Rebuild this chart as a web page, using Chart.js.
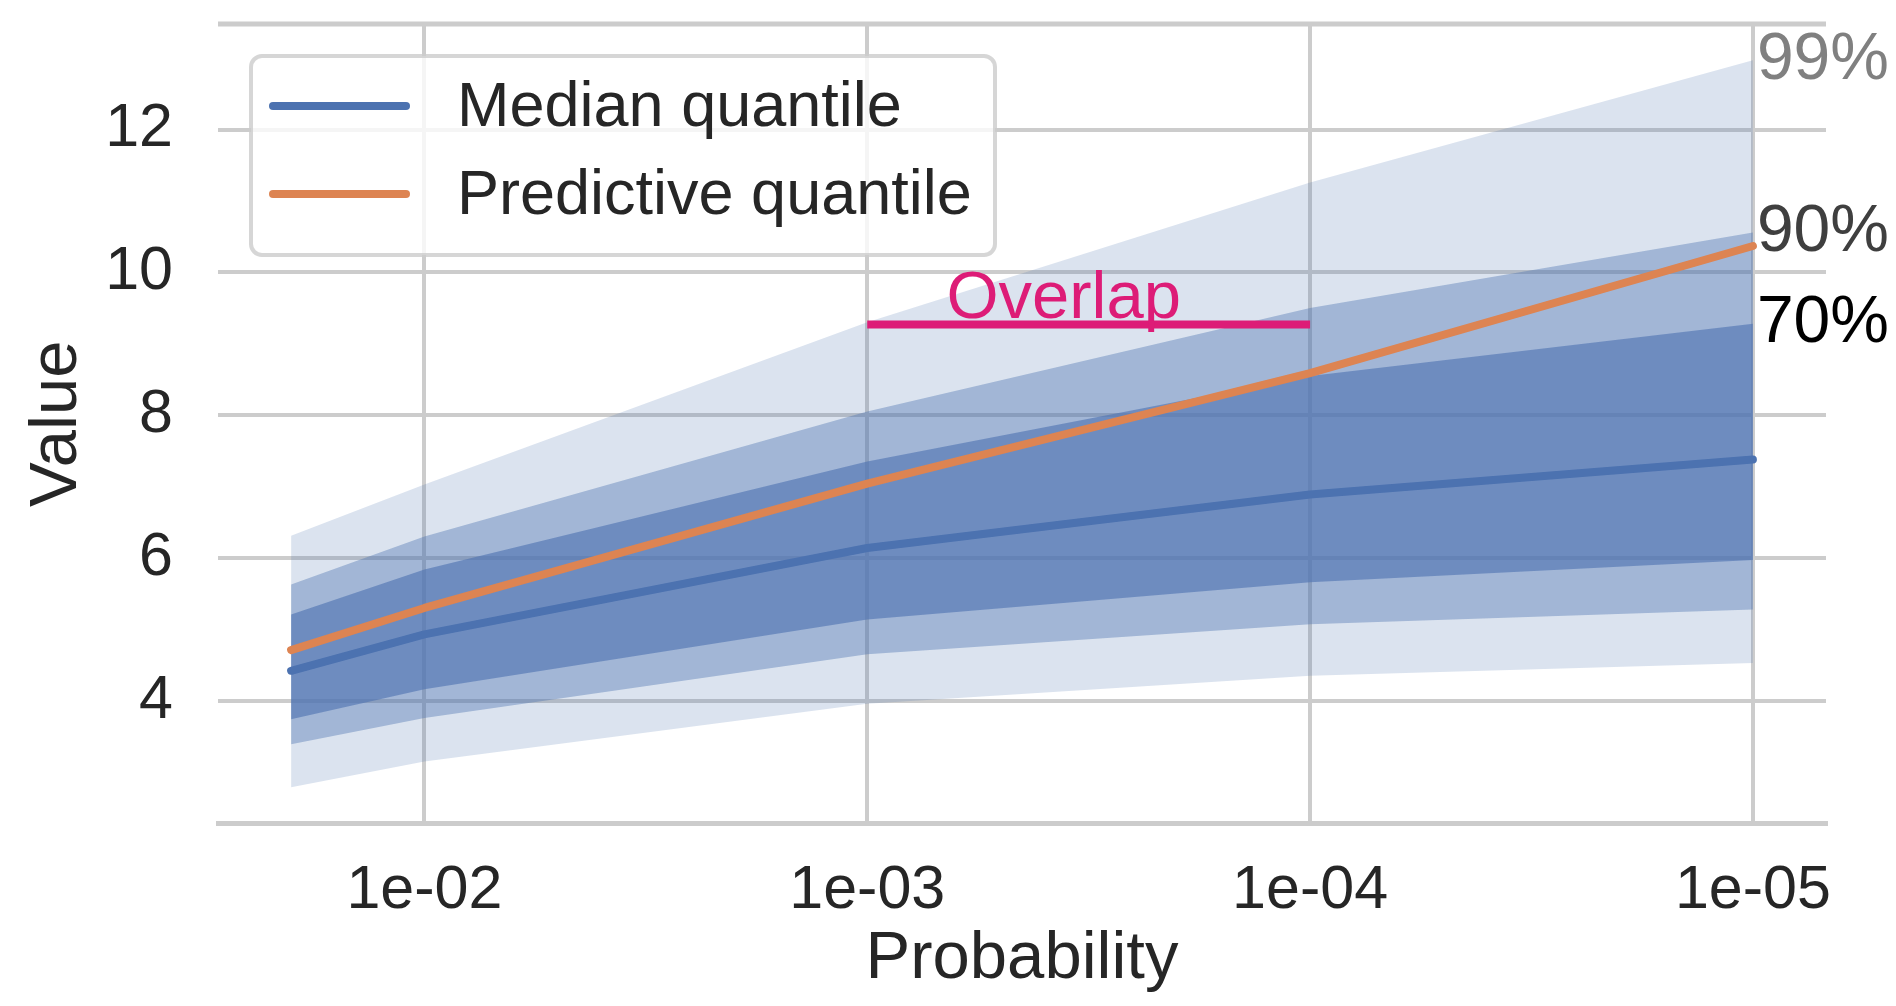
<!DOCTYPE html>
<html>
<head>
<meta charset="utf-8">
<title>Quantiles by probability</title>
<script src="https://cdn.jsdelivr.net/npm/chart.js@4/dist/chart.umd.min.js"></script>
<style>
  html, body { margin: 0; padding: 0; background: #ffffff; }
  #wrap { width: 1896px; height: 1006px; position: relative; }
</style>
</head>
<body>
<div id="wrap"><canvas id="chart"></canvas></div>
<script>
// Exceedance probabilities (x axis runs from 1e-02 towards 1e-05)
const probabilities = [0.02, 0.01, 0.001, 0.0001, 0.00001];

// Central lines
const medianQuantile     = [4.42, 4.93, 6.14, 6.89, 7.38];
const predictiveQuantile = [4.71, 5.30, 7.04, 8.59, 10.37];

// Credible bands around the median quantile
const lower70 = [3.74, 4.16, 5.14, 5.66, 5.97];
const upper70 = [5.21, 5.84, 7.35, 8.55, 9.28];
const lower90 = [3.39, 3.76, 4.65, 5.07, 5.28];
const upper90 = [5.63, 6.30, 8.05, 9.50, 10.56];
const lower99 = [2.79, 3.15, 3.96, 4.35, 4.53];
const upper99 = [6.31, 7.03, 9.30, 11.26, 12.97];

// Tick labels
const xTickProbabilities = [1e-2, 1e-3, 1e-4, 1e-5];
const yTicks = [4, 6, 8, 10, 12];

// "Overlap" marker
const overlapSpan = [1e-3, 1e-4];
const overlapLevel = 9.27;
const overlapTextAt = 3.6e-4;
const overlapText = 'Overlap';

// Band labels at the right end
const bandLabels = ['70%', '90%', '99%'];

// ---------------------------------------------------------------------------
const FONT = "'Liberation Sans', Arial, Helvetica, sans-serif";
const TEXT = '#262626';
const GRID = '#cccccc';
const BLUE = '#4c72b0';
const ORANGE = '#dd8452';
const MAGENTA = '#dd1c77';
const bandFill = a => `rgba(76,114,176,${a})`;

const toX = p => -Math.log10(p);
const pts = vals => probabilities.map((p, i) => ({ x: toX(p), y: vals[i] }));
const fmtProb = v => {
  const e = Math.round(v);
  return '1e-' + String(e).padStart(2, '0');
};

// axis limits with a 5% margin on each side of the data
const xs = probabilities.map(toX);
const xLo = Math.min(...xs), xHi = Math.max(...xs);
const xPad = 0.05 * (xHi - xLo);
const allY = [].concat(lower99, upper99, medianQuantile, predictiveQuantile);
const yLo = Math.min(...allY), yHi = Math.max(...allY);
const yPad = 0.05 * (yHi - yLo);

const LINE_W = 8;
const lineStyle = (color) => ({
  borderColor: color, borderWidth: LINE_W, borderCapStyle: 'round', borderJoinStyle: 'round',
  pointRadius: 0, pointHoverRadius: 0, fill: false, tension: 0
});
const edge = { borderColor: 'rgba(0,0,0,0)', borderWidth: 0, pointRadius: 0, pointHoverRadius: 0, tension: 0 };

const bands = [
  { label: bandLabels[0], lower: lower70, upper: upper70, alpha: 0.6, color: '#000000' },
  { label: bandLabels[1], lower: lower90, upper: upper90, alpha: 0.4, color: '#3f3f3f' },
  { label: bandLabels[2], lower: lower99, upper: upper99, alpha: 0.2, color: '#808080' }
];

const datasets = [
  Object.assign({ label: 'Median quantile', data: pts(medianQuantile) }, lineStyle(BLUE)),
  Object.assign({ label: 'Predictive quantile', data: pts(predictiveQuantile) }, lineStyle(ORANGE)),
  { label: overlapText, data: overlapSpan.map(p => ({ x: toX(p), y: overlapLevel })),
    borderColor: MAGENTA, borderWidth: 8, borderCapStyle: 'butt', pointRadius: 0, pointHoverRadius: 0, fill: false }
];
bands.forEach(b => {
  datasets.push(Object.assign({ label: b.label + ' upper', data: pts(b.upper), fill: '+1', backgroundColor: bandFill(b.alpha) }, edge));
  datasets.push(Object.assign({ label: b.label + ' lower', data: pts(b.lower), fill: false }, edge));
});

// top frame line
const topSpine = {
  id: 'topSpine',
  beforeDatasetsDraw(chart) {
    const { ctx, chartArea } = chart;
    ctx.save();
    ctx.strokeStyle = GRID;
    ctx.lineWidth = 5;
    ctx.beginPath();
    ctx.moveTo(chartArea.left, chartArea.top);
    ctx.lineTo(chartArea.right, chartArea.top);
    ctx.stroke();
    ctx.restore();
  }
};

// annotations: band percentages, overlap caption and the legend box
const annotations = {
  id: 'annotations',
  afterDatasetsDraw(chart) {
    const { ctx, chartArea, scales } = chart;
    const xs = scales.x, ys = scales.y;
    ctx.save();

    // band labels at the last probability
    const last = probabilities.length - 1;
    const xEnd = xs.getPixelForValue(toX(probabilities[last]));
    ctx.font = `66px ${FONT}`;
    ctx.textAlign = 'left';
    ctx.textBaseline = 'middle';
    bands.forEach(b => {
      ctx.fillStyle = b.color;
      ctx.fillText(b.label, xEnd + 4, ys.getPixelForValue(b.upper[last]));
    });

    // overlap caption
    ctx.font = `67px ${FONT}`;
    ctx.fillStyle = MAGENTA;
    ctx.textAlign = 'center';
    ctx.textBaseline = 'alphabetic';
    ctx.fillText(overlapText, xs.getPixelForValue(toX(overlapTextAt)), ys.getPixelForValue(overlapLevel) - 7);

    // legend
    const lx = chartArea.left + 33, ly = chartArea.top + 32, lw = 744, lh = 199, r = 11;
    ctx.beginPath();
    ctx.moveTo(lx + r, ly);
    ctx.arcTo(lx + lw, ly, lx + lw, ly + lh, r);
    ctx.arcTo(lx + lw, ly + lh, lx, ly + lh, r);
    ctx.arcTo(lx, ly + lh, lx, ly, r);
    ctx.arcTo(lx, ly, lx + lw, ly, r);
    ctx.closePath();
    ctx.fillStyle = 'rgba(255,255,255,0.8)';
    ctx.fill();
    ctx.strokeStyle = 'rgba(204,204,204,0.8)';
    ctx.lineWidth = 4;
    ctx.stroke();

    const entries = chart.data.datasets.slice(0, 2);
    ctx.font = `63px ${FONT}`;
    ctx.textAlign = 'left';
    ctx.textBaseline = 'middle';
    entries.forEach((ds, i) => {
      const cy = ly + 50 + i * 88;
      ctx.strokeStyle = ds.borderColor;
      ctx.lineWidth = LINE_W;
      ctx.lineCap = 'round';
      ctx.beginPath();
      ctx.moveTo(lx + 22, cy);
      ctx.lineTo(lx + 155, cy);
      ctx.stroke();
      ctx.fillStyle = TEXT;
      ctx.fillText(ds.label, lx + 206, cy + 3);
    });
    ctx.restore();
  }
};

new Chart(document.getElementById('chart'), {
  type: 'line',
  data: { datasets },
  plugins: [topSpine, annotations],
  options: {
    responsive: true,
    maintainAspectRatio: false,
    animation: false,
    events: [],
    layout: { autoPadding: false, padding: { left: 0, right: 70, top: 24, bottom: 0 } },
    plugins: { legend: { display: false }, tooltip: { enabled: false } },
    scales: {
      x: {
        type: 'linear',
        min: xLo - xPad,
        max: xHi + xPad,
        afterBuildTicks: s => { s.ticks = xTickProbabilities.map(p => ({ value: toX(p) })); },
        afterFit: s => { s.height = 182.5; s.paddingLeft = 0; s.paddingRight = 0; },
        ticks: { callback: v => fmtProb(v), font: { family: FONT, size: 61 }, color: TEXT, padding: 31, maxRotation: 0, autoSkip: false },
        grid: { color: GRID, lineWidth: 4, drawTicks: false },
        border: { display: true, color: GRID, width: 5 },
        title: { display: true, text: 'Probability', font: { family: FONT, size: 67 }, color: TEXT, padding: { top: 0, bottom: 6 } }
      },
      y: {
        type: 'linear',
        min: yLo - yPad,
        max: yHi + yPad,
        afterBuildTicks: s => { s.ticks = yTicks.map(v => ({ value: v })); },
        afterFit: s => { s.width = 218; s.paddingTop = 0; s.paddingBottom = 0; },
        ticks: { font: { family: FONT, size: 61 }, color: TEXT, padding: 45 },
        grid: { color: GRID, lineWidth: 4, drawTicks: false },
        border: { display: false },
        title: { display: true, text: 'Value', font: { family: FONT, size: 67 }, color: TEXT, padding: { top: 17, bottom: 0 } }
      }
    }
  }
});
</script>
</body>
</html>
